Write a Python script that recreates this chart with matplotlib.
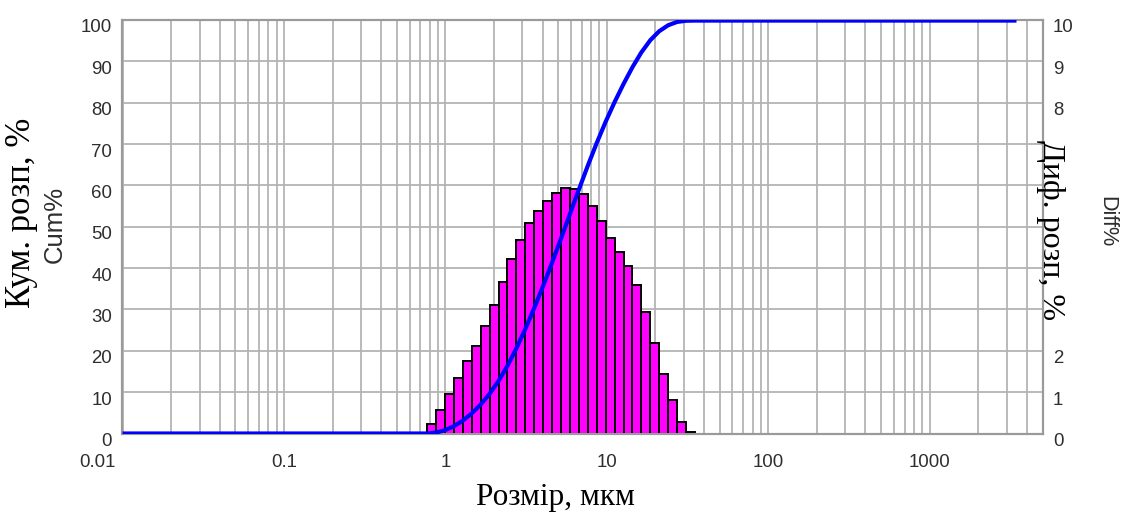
import numpy as np
import matplotlib
matplotlib.use("Agg")
import matplotlib.pyplot as plt
from matplotlib.ticker import LogLocator, FixedLocator, NullFormatter
from matplotlib.transforms import ScaledTranslation

# ---------------- data ----------------
bin_edges_um = [0.770, 0.875, 0.994, 1.129, 1.282, 1.457, 1.654, 1.879, 2.134,
                2.424, 2.753, 3.127, 3.551, 4.034, 4.581, 5.204, 5.910, 6.713,
                7.625, 8.660, 9.835, 11.17, 12.69, 14.41, 16.37, 18.59, 21.12,
                23.99, 27.24, 30.94, 35.14]
diff_pct = [0.22, 0.58, 0.96, 1.35, 1.76, 2.12, 2.60, 3.10, 3.66, 4.23,
            4.67, 5.08, 5.37, 5.62, 5.81, 5.93, 5.91, 5.78, 5.50, 5.14,
            4.74, 4.39, 4.05, 3.59, 2.95, 2.18, 1.44, 0.80, 0.29, 0.04]
x_start_um = 0.01
x_end_um = 3450
x_ticks = [0.01, 0.1, 1, 10, 100, 1000]
x_tick_labels = ["0.01", "0.1", "1", "10", "100", "1000"]
cum_ticks = [0, 10, 20, 30, 40, 50, 60, 70, 80, 90, 100]
cum_tick_labels = ["0", "10", "20", "30", "40", "50", "60", "70", "80", "90", "100"]
diff_ticks = [0, 1, 2, 3, 4, 5, 6, 7, 8, 9, 10]
diff_tick_labels = ["0", "1", "2", "", "", "", "", "", "8", "9", "10"]

# ---------------- figure ----------------
W, H = 1125, 516
fig = plt.figure(figsize=(W / 100, H / 100), dpi=100)
fig.patch.set_facecolor("white")

# base axes: differential histogram (right scale), carries x axis and grid
ax_diff = fig.add_axes([122.5 / W, 1 - 433.5 / H, (1042.5 - 122.5) / W, (433.5 - 20) / H])
ax_cum = ax_diff.twinx()
ax_diff.yaxis.tick_right()
ax_cum.yaxis.tick_left()
ax_cum.set_zorder(2)
ax_diff.set_zorder(1)
ax_cum.patch.set_visible(False)
ax_diff.patch.set_facecolor("white")

ax_diff.set_xscale("log")
ax_diff.set_xlim(0.01, 5000)
ax_cum.set_ylim(0, 100)
ax_diff.set_ylim(0, 10)

grid_col = "#b4b4b4"
spine_col = "#9a9a9a"
tick_col = "#2e2e2e"
sans = "Liberation Sans"
serif = "Liberation Serif"

# ticks
ax_diff.xaxis.set_major_locator(FixedLocator(x_ticks))
ax_diff.set_xticklabels(x_tick_labels)
ax_diff.xaxis.set_minor_locator(LogLocator(base=10, subs=np.arange(2, 10)))
ax_diff.xaxis.set_minor_formatter(NullFormatter())
ax_cum.set_yticks(cum_ticks)
ax_cum.set_yticklabels(cum_tick_labels)
ax_diff.set_yticks(diff_ticks)
ax_diff.set_yticklabels(diff_tick_labels)

# grid (on lower axes so bars cover it)
ax_diff.set_axisbelow(True)
ax_diff.grid(True, which="both", axis="x", color=grid_col, lw=1.3)
ax_diff.grid(True, which="major", axis="y", color=grid_col, lw=1.3)

# histogram bars
edges = np.array(bin_edges_um)
ax_diff.plot([x_start_um, x_end_um], [0, 0], color="black", lw=2.0, zorder=2,
             solid_capstyle="butt")
ax_diff.bar(edges[:-1], diff_pct, width=np.diff(edges), align="edge",
            color="#ff00ff", edgecolor="black", linewidth=1.4, zorder=3)

# cumulative curve
cum_vals = np.concatenate([[0.0, 0.0], np.cumsum(diff_pct), [np.sum(diff_pct)]])
cum_x = np.concatenate([[x_start_um], edges, [x_end_um]])
ax_cum.plot(cum_x, cum_vals, color="#0000ff", lw=3.0, zorder=4,
            solid_capstyle="butt", solid_joinstyle="round")

for a in (ax_cum, ax_diff):
    a.tick_params(which="both", length=0, colors=tick_col, labelsize=13.4)
    for s in a.spines.values():
        s.set_color(spine_col)
        s.set_linewidth(1.5)
ax_diff.tick_params(axis="x", pad=15)
ax_cum.tick_params(axis="y", pad=7.5)
ax_diff.tick_params(axis="y", pad=7.5)

for lab in ax_diff.get_xticklabels() + ax_cum.get_yticklabels() + ax_diff.get_yticklabels():
    lab.set_fontfamily(sans)

dpi_t = fig.dpi_scale_trans
for lab in ax_cum.get_yticklabels() + ax_diff.get_yticklabels():
    lab.set_transform(lab.get_transform() + ScaledTranslation(0, -6 / 100, dpi_t))
first = ax_diff.get_xticklabels()[0]
first.set_horizontalalignment("right")
first.set_transform(first.get_transform() + ScaledTranslation(-7 / 100, 0, dpi_t))


def ftext(x, y, s, **kw):
    fig.text(x / W, 1 - y / H, s, ha="center", va="center", **kw)


ftext(22, 213, "Кум. розп, %", rotation=90, fontsize=25, family=serif, color="black")
ftext(55, 224, "Cum%", rotation=90, fontsize=18.5, family=sans, color=tick_col)
ftext(1050, 230, "Диф. розп, %", rotation=270, fontsize=23, family=serif, color="black")
ftext(1107, 222, "Diff%", rotation=270, fontsize=15.6, family=sans, color=tick_col)
ftext(555, 497, "Розмір, мкм", fontsize=22.5, family=serif, color="black")

fig.savefig("out.png", dpi=100)
